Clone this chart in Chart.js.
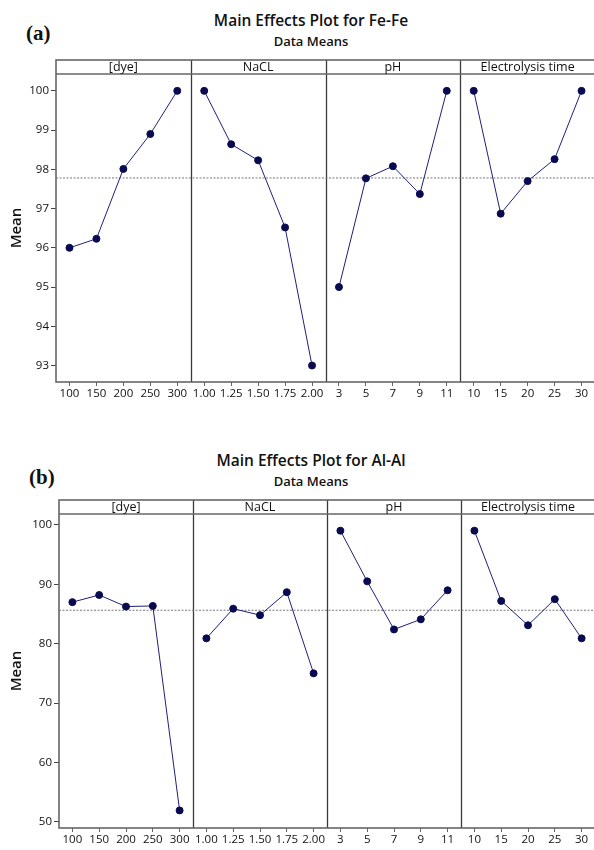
<!DOCTYPE html>
<html>
<head>
<meta charset="utf-8">
<script src="https://cdn.jsdelivr.net/npm/chart.js@4.4.0/dist/chart.umd.min.js"></script>
<style>
  body { margin:0; width:594px; height:850px; overflow:hidden; background:#fff; position:relative; }
  canvas { position:absolute; left:0; }
  .lbl { position:absolute; font-family:"Liberation Serif", serif; font-weight:bold; font-size:21px; color:#111; line-height:1; transform:translateY(-50%); }
  .ttl { position:absolute; font-family:"Open Sans", sans-serif; color:#111; line-height:1; white-space:nowrap; transform:translate(-50%,-50%); }
  .t1 { font-size:15.5px; font-weight:600; }
  .t2 { font-size:13px; font-weight:600; }
</style>
</head>
<body>
<div class="lbl" style="left:26px;top:33px;">(a)</div>
<div class="ttl t1" style="left:311px;top:21px;">Main Effects Plot for Fe-Fe</div>
<div class="ttl t2" style="left:311px;top:41px;">Data Means</div>
<canvas id="chartA" width="600" height="410" style="top:0px;"></canvas>

<div class="lbl" style="left:29px;top:477px;">(b)</div>
<div class="ttl t1" style="left:311px;top:461px;">Main Effects Plot for Al-Al</div>
<div class="ttl t2" style="left:311px;top:481px;">Data Means</div>
<canvas id="chartB" width="600" height="430" style="top:420px;"></canvas>

<script>
// factors and their levels
const factors = ['[dye]', 'NaCL', 'pH', 'Electrolysis time'];
const dyeLevels = ['100', '150', '200', '250', '300'];
const naclLevels = ['1.00', '1.25', '1.50', '1.75', '2.00'];
const phLevels = ['3', '5', '7', '9', '11'];
const timeLevels = ['10', '15', '20', '25', '30'];

// (a) Fe-Fe means
const feDye = [96.0, 96.23, 98.01, 98.9, 100];
const feNacl = [100, 98.64, 98.23, 96.52, 93.0];
const fePH = [95.0, 97.77, 98.08, 97.37, 100];
const feTime = [100, 96.87, 97.70, 98.26, 100];
const feMean = 97.78;
const feTicks = [93, 94, 95, 96, 97, 98, 99, 100];

// (b) Al-Al means
const alDye = [87.0, 88.2, 86.25, 86.36, 51.9];
const alNacl = [80.9, 85.9, 84.8, 88.67, 75.0];
const alPH = [99.04, 90.5, 82.4, 84.1, 89.0];
const alTime = [99.04, 87.2, 83.1, 87.5, 80.9];
const alMean = 85.63;
const alTicks = [50, 60, 70, 80, 90, 100];

const levels = [dyeLevels, naclLevels, phLevels, timeLevels];
const flatLabels = levels.flat();
// each panel is 5 units wide, levels sit at 0.5, 1.5 ... inside it
const xPos = [];
levels.forEach((lv, p) => lv.forEach((l, j) => xPos.push(p * 5 + 0.5 + j)));

const lineColor = '#1f1f7a';
const dotColor = '#0a0a50';
const tickFont = { family: 'Open Sans', size: 11.5 };

// header strip, frame and panel dividers
const panelPlugin = {
  id: 'panels',
  beforeDatasetsDraw(chart) {
    const ctx = chart.ctx;
    const a = chart.chartArea;
    const xs = chart.scales.x;
    const hh = 14;
    ctx.save();
    // dividers
    ctx.strokeStyle = '#3a3a3a';
    ctx.lineWidth = 1.3;
    for (let p = 1; p < 4; p++) {
      const x = Math.round(xs.getPixelForValue(p * 5)) + 0.5;
      ctx.beginPath();
      ctx.moveTo(x, a.top - hh);
      ctx.lineTo(x, a.bottom);
      ctx.stroke();
    }
    // frame + header
    ctx.strokeStyle = '#666';
    ctx.lineWidth = 1.6;
    ctx.strokeRect(a.left, a.top - hh, a.right - a.left, a.bottom - a.top + hh);
    ctx.beginPath();
    ctx.moveTo(a.left, a.top);
    ctx.lineTo(a.right, a.top);
    ctx.stroke();
    ctx.fillStyle = '#111';
    ctx.font = '12.5px "Open Sans"';
    ctx.textAlign = 'center';
    ctx.textBaseline = 'middle';
    factors.forEach((f, p) => {
      const cx = xs.getPixelForValue(p * 5 + 2.5);
      ctx.fillText(f, cx, a.top - hh / 2);
    });
    ctx.restore();
  }
};

function makeChart(id, series, mean, yTicks, yMin, yMax, cfg) {
  const datasets = series.map((s, p) => ({
    data: s.map((v, j) => ({ x: xPos[p * 5 + j], y: v })),
    borderColor: lineColor,
    borderWidth: 1,
    backgroundColor: dotColor,
    pointBackgroundColor: dotColor,
    pointBorderColor: dotColor,
    pointRadius: 3.5,
    tension: 0,
    order: 1
  }));
  // reference line at the overall mean
  datasets.push({
    data: [{ x: 0, y: mean }, { x: 20, y: mean }],
    borderColor: '#777',
    borderWidth: 1,
    borderDash: [2, 1.5],
    pointRadius: 0,
    order: 10
  });

  return new Chart(document.getElementById(id).getContext('2d'), {
    type: 'line',
    data: { datasets: datasets },
    options: {
      responsive: false,
      animation: false,
      layout: { padding: { top: cfg.top, right: cfg.right, left: 0, bottom: 0 } },
      plugins: { legend: { display: false }, tooltip: { enabled: false } },
      scales: {
        x: {
          type: 'linear',
          min: 0,
          max: 20,
          afterBuildTicks: s => { s.ticks = xPos.map(v => ({ value: v })); },
          afterFit: s => { s.height = cfg.xh; },
          ticks: {
            autoSkip: false,
            maxRotation: 0,
            padding: 1,
            color: '#111',
            font: tickFont,
            callback: (v, i) => flatLabels[i]
          },
          grid: { drawOnChartArea: false, drawTicks: true, tickLength: 4, color: '#666' },
          border: { display: false }
        },
        y: {
          min: yMin,
          max: yMax,
          afterBuildTicks: s => { s.ticks = yTicks.map(v => ({ value: v })); },
          afterFit: s => { s.width = cfg.yw; },
          ticks: { padding: 2, color: '#111', font: tickFont },
          grid: { drawOnChartArea: false, drawTicks: true, tickLength: 5, color: '#444' },
          border: { display: false },
          title: {
            display: true,
            text: 'Mean',
            color: '#111',
            font: { family: 'Open Sans', size: 15, weight: '600' },
            padding: { top: 8, bottom: 0 }
          }
        }
      }
    },
    plugins: [panelPlugin]
  });
}

makeChart('chartA', [feDye, feNacl, fePH, feTime], feMean, feTicks, 92.58, 100.43,
  { top: 74, right: 4, yw: 56, xh: 28 });
makeChart('chartB', [alDye, alNacl, alPH, alTime], alMean, alTicks, 48.94, 101.85,
  { top: 94, right: 3, yw: 59, xh: 22 });
</script>
</body>
</html>
